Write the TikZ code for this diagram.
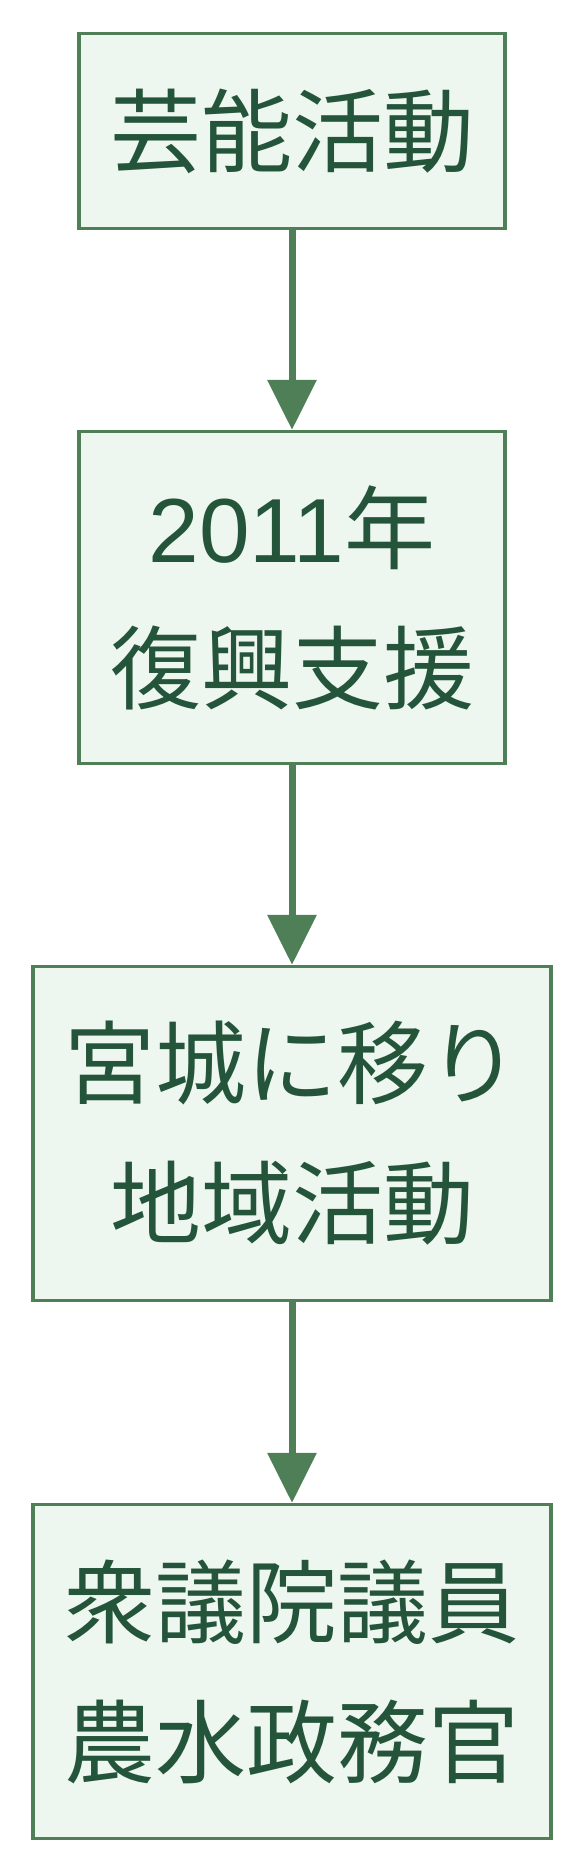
\documentclass[tikz,border=0pt]{standalone}
\usepackage{fontspec}
\setmainfont{Liberation Sans}
\newfontfamily\cjk{Noto Sans CJK JP}
\newfontfamily\latinfont{Liberation Sans}
\usetikzlibrary{positioning}
\usetikzlibrary{arrows.meta}
\definecolor{stepline}{HTML}{4E7F56}
\definecolor{stepfill}{HTML}{EDF6EF}
\definecolor{steptext}{HTML}{24543A}

\begin{document}
\begin{tikzpicture}
    [x=1pt, y=1pt,
    career/.style={draw=stepline, fill=stepfill, line width=3.5pt, text=steptext,
        align=center, inner sep=0pt,
        font=\cjk\fontsize{91}{140}\selectfont},
    narrow/.style={career, minimum width=426pt, minimum height=195pt},
    tall/.style={career, minimum width=426pt, minimum height=332pt},
    wide/.style={career, minimum width=518pt, minimum height=334pt},
    link/.style={stepline, line width=7pt, -{Triangle[length=50pt, width=48pt]}}]
     \useasboundingbox (0,0) rectangle (584,-1872);
     \node[narrow] (geino)   at (292, -131)    {芸能活動};
     \node[tall]   (fukko)   at (292, -597.5)  {{\latinfont 2011}年\\復興支援};
     \node[wide]   (miyagi)  at (292, -1133.5) {宮城に移り\\地域活動};
     \node[wide]   (giin)    at (292, -1671.5) {衆議院議員\\農水政務官};
     \draw[link] (geino) -- (fukko);
     \draw[link] (fukko) -- (miyagi);
     \draw[link] (miyagi) -- (giin);
\end{tikzpicture}
\end{document}
